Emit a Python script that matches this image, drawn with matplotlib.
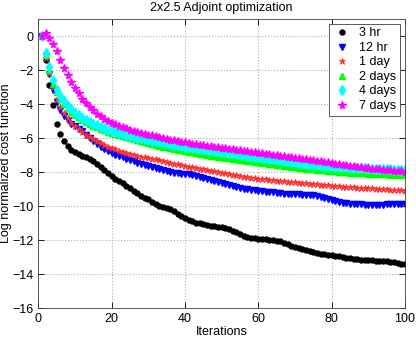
import numpy as np
import matplotlib
matplotlib.use('Agg')
import matplotlib.pyplot as plt

plt.rcParams.update({'font.family': 'Liberation Sans', 'font.size': 9})

iterations = list(range(1, 101))

hr3 = [0, -1.43, -2.9, -4.03, -5.2, -5.75, -6.15, -6.45, -6.68, -6.85,
       -6.95, -7.03, -7.12, -7.22, -7.35, -7.55, -7.72, -7.9, -8.08, -8.25,
       -8.4, -8.52, -8.65, -8.8, -8.95, -9.1, -9.25, -9.4, -9.5, -9.6,
       -9.75, -9.88, -9.98, -10.05, -10.1, -10.2, -10.3, -10.45, -10.6, -10.72,
       -10.82, -10.9, -10.97, -11.02, -11.08, -11.14, -11.18, -11.2, -11.22, -11.25,
       -11.3, -11.36, -11.45, -11.55, -11.65, -11.75, -11.82, -11.87, -11.9, -11.92,
       -11.94, -11.95, -11.97, -12.0, -12.03, -12.08, -12.15, -12.25, -12.35, -12.42,
       -12.48, -12.52, -12.57, -12.62, -12.68, -12.75, -12.8, -12.85, -12.88, -12.9,
       -12.92, -12.95, -13.0, -13.04, -13.07, -13.1, -13.13, -13.15, -13.17, -13.19,
       -13.2, -13.22, -13.23, -13.24, -13.26, -13.28, -13.31, -13.35, -13.39, -13.42]

hr12 = [0, -1.2, -2.25, -3.15, -3.9, -4.35, -4.7, -4.95, -5.15, -5.3,
        -5.45, -5.6, -5.8, -6.0, -6.2, -6.38, -6.52, -6.65, -6.78, -6.9,
        -6.98, -7.06, -7.14, -7.22, -7.3, -7.38, -7.46, -7.53, -7.6, -7.66,
        -7.72, -7.78, -7.84, -7.9, -7.95, -8.0, -8.04, -8.08, -8.1, -8.12,
        -8.14, -8.17, -8.22, -8.28, -8.35, -8.42, -8.48, -8.53, -8.58, -8.64,
        -8.7, -8.76, -8.82, -8.88, -8.93, -8.97, -9.0, -9.03, -9.06, -9.09,
        -9.12, -9.15, -9.18, -9.2, -9.23, -9.26, -9.28, -9.3, -9.31, -9.32,
        -9.32, -9.33, -9.33, -9.34, -9.36, -9.4, -9.46, -9.53, -9.6, -9.66,
        -9.72, -9.76, -9.8, -9.83, -9.86, -9.88, -9.9, -9.91, -9.92, -9.92,
        -9.92, -9.92, -9.92, -9.92, -9.91, -9.91, -9.91, -9.9, -9.9, -9.9]

day1 = [0, -1.3, -2.15, -3.0, -3.7, -4.2, -4.55, -4.85, -5.1, -5.3,
        -5.48, -5.65, -5.8, -5.95, -6.08, -6.2, -6.3, -6.4, -6.5, -6.58,
        -6.66, -6.74, -6.82, -6.88, -6.94, -7.0, -7.05, -7.1, -7.14, -7.18,
        -7.22, -7.26, -7.3, -7.35, -7.4, -7.45, -7.5, -7.55, -7.6, -7.64,
        -7.68, -7.72, -7.76, -7.8, -7.84, -7.88, -7.92, -7.96, -8.0, -8.04,
        -8.08, -8.12, -8.16, -8.2, -8.24, -8.28, -8.31, -8.34, -8.37, -8.4,
        -8.42, -8.44, -8.46, -8.48, -8.5, -8.52, -8.54, -8.56, -8.58, -8.6,
        -8.62, -8.64, -8.66, -8.68, -8.7, -8.72, -8.74, -8.76, -8.78, -8.8,
        -8.82, -8.84, -8.86, -8.88, -8.9, -8.91, -8.92, -8.93, -8.94, -8.95,
        -8.96, -8.97, -8.98, -9.0, -9.02, -9.04, -9.06, -9.07, -9.08, -9.09]

day2 = [0, -1.1, -2.0, -2.8, -3.3, -3.7, -4.0, -4.25, -4.45, -4.63,
        -4.78, -4.92, -5.05, -5.16, -5.27, -5.37, -5.46, -5.55, -5.63, -5.7,
        -5.77, -5.84, -5.9, -5.96, -6.02, -6.08, -6.14, -6.2, -6.25, -6.3,
        -6.35, -6.4, -6.45, -6.5, -6.55, -6.6, -6.64, -6.68, -6.72, -6.76,
        -6.8, -6.84, -6.88, -6.92, -6.96, -7.0, -7.03, -7.06, -7.09, -7.12,
        -7.15, -7.18, -7.21, -7.24, -7.27, -7.3, -7.33, -7.36, -7.39, -7.42,
        -7.45, -7.48, -7.51, -7.54, -7.57, -7.6, -7.63, -7.66, -7.69, -7.72,
        -7.75, -7.78, -7.8, -7.82, -7.84, -7.86, -7.88, -7.9, -7.92, -7.94,
        -7.96, -7.98, -8.0, -8.02, -8.04, -8.05, -8.06, -8.07, -8.08, -8.09,
        -8.1, -8.11, -8.12, -8.13, -8.14, -8.15, -8.16, -8.17, -8.18, -8.2]

day4 = [0, -1.0, -1.85, -2.6, -3.15, -3.55, -3.85, -4.1, -4.32, -4.5,
        -4.66, -4.8, -4.93, -5.05, -5.15, -5.25, -5.34, -5.42, -5.5, -5.57,
        -5.64, -5.7, -5.76, -5.82, -5.87, -5.92, -5.97, -6.02, -6.07, -6.12,
        -6.16, -6.2, -6.24, -6.28, -6.32, -6.36, -6.4, -6.44, -6.48, -6.52,
        -6.55, -6.58, -6.61, -6.64, -6.67, -6.7, -6.73, -6.76, -6.79, -6.82,
        -6.85, -6.88, -6.91, -6.94, -6.97, -7.0, -7.03, -7.06, -7.09, -7.12,
        -7.15, -7.18, -7.21, -7.24, -7.27, -7.3, -7.33, -7.36, -7.39, -7.42,
        -7.45, -7.48, -7.51, -7.54, -7.56, -7.58, -7.6, -7.62, -7.64, -7.66,
        -7.68, -7.7, -7.72, -7.73, -7.74, -7.75, -7.76, -7.77, -7.78, -7.79,
        -7.8, -7.81, -7.82, -7.83, -7.84, -7.85, -7.86, -7.87, -7.88, -7.89]

day7 = [0, 0.2, -0.1, -0.45, -0.9, -1.4, -1.9, -2.3, -2.7, -3.05,
        -3.38, -3.68, -3.95, -4.18, -4.38, -4.56, -4.72, -4.86, -4.98, -5.1,
        -5.2, -5.29, -5.37, -5.44, -5.5, -5.56, -5.62, -5.68, -5.74, -5.8,
        -5.85, -5.9, -5.95, -6.0, -6.05, -6.1, -6.14, -6.18, -6.22, -6.26,
        -6.3, -6.33, -6.36, -6.39, -6.42, -6.45, -6.48, -6.51, -6.54, -6.57,
        -6.6, -6.63, -6.66, -6.69, -6.72, -6.75, -6.78, -6.81, -6.84, -6.87,
        -6.9, -6.93, -6.96, -6.99, -7.02, -7.05, -7.08, -7.11, -7.14, -7.17,
        -7.2, -7.23, -7.26, -7.29, -7.32, -7.35, -7.38, -7.41, -7.44, -7.47,
        -7.5, -7.53, -7.56, -7.59, -7.62, -7.65, -7.68, -7.71, -7.74, -7.77,
        -7.8, -7.82, -7.84, -7.86, -7.88, -7.9, -7.92, -7.94, -7.96, -7.98]

labels = ['3 hr', '12 hr', '1 day', '2 days', '4 days', '7 days']

fig = plt.figure(figsize=(4.16, 3.37), dpi=100)
ax = fig.add_axes([0.0925, 0.086, 0.881, 0.8576])

ax.plot(iterations, hr3, 'o', color='k', ms=3.6, mec='k', label=labels[0])
ax.plot(iterations, hr12, 'v', color='#0000ff', ms=4.8, mec='#0000ff', label=labels[1])
ax.plot(iterations, day1, '*', color='#ff3030', ms=4.8, mec='#ff3030', mew=0.6, label=labels[2])
ax.plot(iterations, day2, '^', color='#00ff00', ms=4.8, mec='#00ff00', label=labels[3])
ax.plot(iterations, day4, 'd', color='#00ffff', ms=4.8, mec='#00ffff', label=labels[4])
ax.plot(iterations, day7, '*', color='#ff00ff', ms=5.8, mec='#ff00ff', label=labels[5])

ax.set_xlim(0, 100)
ax.set_ylim(-16, 1)
ax.set_xticks([0, 20, 40, 60, 80, 100])
ax.set_yticks([-16, -14, -12, -10, -8, -6, -4, -2, 0])
ax.yaxis.set_major_formatter(matplotlib.ticker.FuncFormatter(lambda v, p: '%d' % v if v >= 0 else '\u2212%d' % -v))
ax.tick_params(direction='in', top=True, right=True, length=4, width=0.6, labelsize=9)
ax.grid(True, linestyle=':', color='#b0b0b0', linewidth=0.8)
for s in ax.spines.values():
    s.set_linewidth(0.6)
    s.set_color('#404040')

ax.set_xlabel('Iterations', labelpad=1)
ax.set_ylabel('Log normalized cost function')
ax.yaxis.set_label_coords(-0.072, 0.5)
ax.set_title('2x2.5 Adjoint optimization', fontsize=9, pad=6)

leg = ax.legend(loc='upper right', bbox_to_anchor=(0.987, 0.984), fancybox=False, framealpha=1,
                edgecolor='#404040', borderpad=0.3, labelspacing=0.2, handletextpad=0.6,
                handlelength=1.5, borderaxespad=0, fontsize=9)
leg.get_frame().set_linewidth(0.6)

fig.savefig('out.png', dpi=100)
